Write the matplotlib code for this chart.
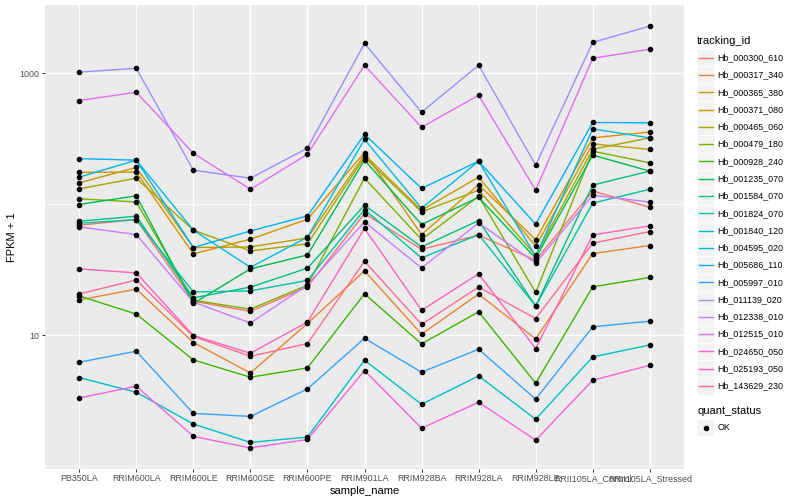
import matplotlib
matplotlib.use("Agg")
import matplotlib.pyplot as plt
from matplotlib.lines import Line2D
from matplotlib.patches import Rectangle
import numpy as np

plt.rcParams['font.family'] = ['Liberation Sans', 'DejaVu Sans']

samples = ["PB350LA", "RRIM600LA", "RRIM600LE", "RRIM600SE", "RRIM600PE", "RRIM901LA",
           "RRIM928BA", "RRIM928LA", "RRIM928LE", "RRII105LA_Control", "RRII105LA_Stressed"]

ids = ["Hb_000300_610", "Hb_000317_340", "Hb_000365_380", "Hb_000371_080", "Hb_000465_060",
       "Hb_000479_180", "Hb_000928_240", "Hb_001235_070", "Hb_001584_070", "Hb_001824_070",
       "Hb_001840_120", "Hb_004595_020", "Hb_005686_110", "Hb_005997_010", "Hb_011139_020",
       "Hb_012338_010", "Hb_012515_010", "Hb_024650_050", "Hb_025193_050", "Hb_143629_230"]

colors = ["#F8766D", "#EA8331", "#D89000", "#C09B00", "#A3A500", "#7CAE00", "#39B600",
          "#00BB4E", "#00BF7D", "#00C1A3", "#00BFC4", "#00BAE0", "#00B0F6", "#35A2FF",
          "#9590FF", "#C77CFF", "#E76BF3", "#FA62DB", "#FF62BC", "#FF6C91"]

# FPKM + 1, one list per tracking_id, in sample order
hb_000300_610 = [69.2, 76.4, 18.2, 15.2, 23.4, 84.9, 45.3, 58.0, 37.4, 126, 94.9]
hb_000317_340 = [18.6, 22.5, 8.8, 5.15, 12.3, 31.0, 10.2, 20.6, 9.37, 42.0, 48.4]
hb_000365_380 = [175, 176, 41.8, 54.1, 76.8, 248, 58.7, 141, 53.6, 321, 356]
hb_000371_080 = [145.5, 191, 46.7, 47.2, 55.3, 239, 90, 161, 47.8, 289, 262]
hb_000465_060 = [131, 158, 63.4, 44, 49.8, 228.5, 87.4, 128, 40.8, 263, 321]
hb_000479_180 = [110, 104, 18.5, 15.8, 24.1, 158, 53.8, 115, 21.2, 254, 207]
hb_000928_240 = [19.95, 14.5, 6.48, 4.78, 5.63, 20.7, 8.59, 15.1, 4.30, 23.4, 27.6]
hb_001235_070 = [99.5, 116, 17.5, 32.1, 41, 217, 70, 113, 38.7, 237, 179]
hb_001584_070 = [74.2, 81, 19.3, 23.3, 32.5, 98.3, 47.2, 75.1, 16.7, 140, 179]
hb_001824_070 = [71.6, 76.4, 21.4, 21.8, 26.2, 91.1, 38.9, 58.7, 16.7, 102, 130]
hb_001840_120 = [4.75, 3.67, 2.10, 1.52, 1.67, 6.45, 2.97, 4.89, 2.28, 6.83, 8.43]
hb_004595_020 = [161, 217, 63.4, 33.0, 56.0, 312, 93.2, 213, 40.1, 376, 321]
hb_005686_110 = [223, 217, 46.7, 62.5, 81.4, 342, 132, 213, 70.4, 421, 418]
hb_005997_010 = [6.22, 7.55, 2.53, 2.40, 3.89, 9.48, 5.22, 7.82, 3.25, 11.6, 12.8]
hb_011139_020 = [1020, 1090, 182, 158, 268, 1690, 504, 1150, 199, 1720, 2290]
hb_012338_010 = [67.1, 58.7, 17.9, 12.4, 24.2, 73.3, 32.6, 72, 35.6, 117, 104]
hb_012515_010 = [619, 716, 245, 130, 241, 1150, 387, 679, 128, 1300, 1525]
hb_024650_050 = [3.32, 4.08, 1.69, 1.38, 1.60, 5.38, 1.95, 3.08, 1.58, 4.53, 5.90]
hb_025193_050 = [32.1, 29.9, 9.95, 7.29, 12.6, 65.3, 15.5, 29.4, 7.91, 58.3, 68.3]
hb_143629_230 = [20.7, 26.4, 9.8, 6.91, 8.64, 36.7, 12.1, 23.3, 13.4, 50.4, 61.9]

values = [hb_000300_610, hb_000317_340, hb_000365_380, hb_000371_080, hb_000465_060,
          hb_000479_180, hb_000928_240, hb_001235_070, hb_001584_070, hb_001824_070,
          hb_001840_120, hb_004595_020, hb_005686_110, hb_005997_010, hb_011139_020,
          hb_012338_010, hb_012515_010, hb_024650_050, hb_025193_050, hb_143629_230]

W, H = 800, 500
fig = plt.figure(figsize=(8, 5), dpi=100)
# panel box in pixels (left, top, right, bottom)
pl, pt, pr, pb = 45, 5, 684, 469
ax = fig.add_axes([pl / W, 1 - pb / H, (pr - pl) / W, (pb - pt) / H])
ax.set_facecolor("#EBEBEB")
for s in ax.spines.values():
    s.set_visible(False)

x = np.arange(len(samples))
for vals, c in zip(values, colors):
    ax.plot(x, vals, color=c, lw=1.0, zorder=2)
for vals in values:
    ax.plot(x, vals, 'o', color='black', ms=3, zorder=3, lw=0)

ax.set_yscale('log')
allv = np.log10(np.concatenate([np.array(v) for v in values]))
lo, hi = allv.min(), allv.max()
pad = (hi - lo) * 0.05
ax.set_ylim(10 ** (lo - pad), 10 ** (hi + pad))
ax.set_xlim(-0.6, len(samples) - 0.4)

ax.set_yticks([10, 1000])
ax.set_yticklabels(["10", "1000"])
ax.set_yticks([1, 100], minor=True)
ax.yaxis.set_minor_formatter(plt.NullFormatter())
ax.set_xticks(x)
ax.set_xticklabels(samples)
ax.tick_params(axis='both', which='major', labelsize=6.4, labelcolor='#4D4D4D',
               color='#333333', length=2.2, width=0.7, pad=1.6)
ax.tick_params(axis='y', which='minor', length=0)
ax.grid(True, which='major', color='white', lw=1.0, zorder=0)
ax.grid(True, which='minor', axis='y', color='white', lw=0.5, zorder=0)
ax.set_axisbelow(True)
ax.set_xlabel("sample_name", fontsize=8, labelpad=2)
ax.set_ylabel("FPKM + 1", fontsize=8, labelpad=2)

# legends drawn in figure pixels, ggplot style
def fx(px):
    return px / W

def fy(py):
    return 1 - py / H

key = 17.28
kx = 697
fig.text(fx(kx), fy(40.7), "tracking_id", fontsize=8, va='center', ha='left')
for i, (name, c) in enumerate(zip(ids, colors)):
    cy = 57.7 + i * key
    fig.add_artist(Rectangle((fx(kx), fy(cy + key / 2)), key / W, key / H,
                             transform=fig.transFigure, facecolor="#F2F2F2",
                             edgecolor='white', lw=0.5))
    fig.add_artist(Line2D([fx(kx + 1.7), fx(kx + key - 1.7)], [fy(cy), fy(cy)],
                          transform=fig.transFigure, color=c, lw=1.0))
    fig.text(fx(kx + key + 3), fy(cy), name, fontsize=6.4, va='center', ha='left')

fig.text(fx(kx), fy(410.5), "quant_status", fontsize=8, va='center', ha='left')
cy = 427.5
fig.add_artist(Rectangle((fx(kx), fy(cy + key / 2)), key / W, key / H,
                         transform=fig.transFigure, facecolor="#F2F2F2",
                         edgecolor='white', lw=0.5))
fig.add_artist(Line2D([fx(kx + key / 2)], [fy(cy)], transform=fig.transFigure,
                      marker='o', color='black', ms=3, lw=0))
fig.text(fx(kx + key + 3), fy(cy), "OK", fontsize=6.4, va='center', ha='left')

fig.savefig("out.png", dpi=100)
